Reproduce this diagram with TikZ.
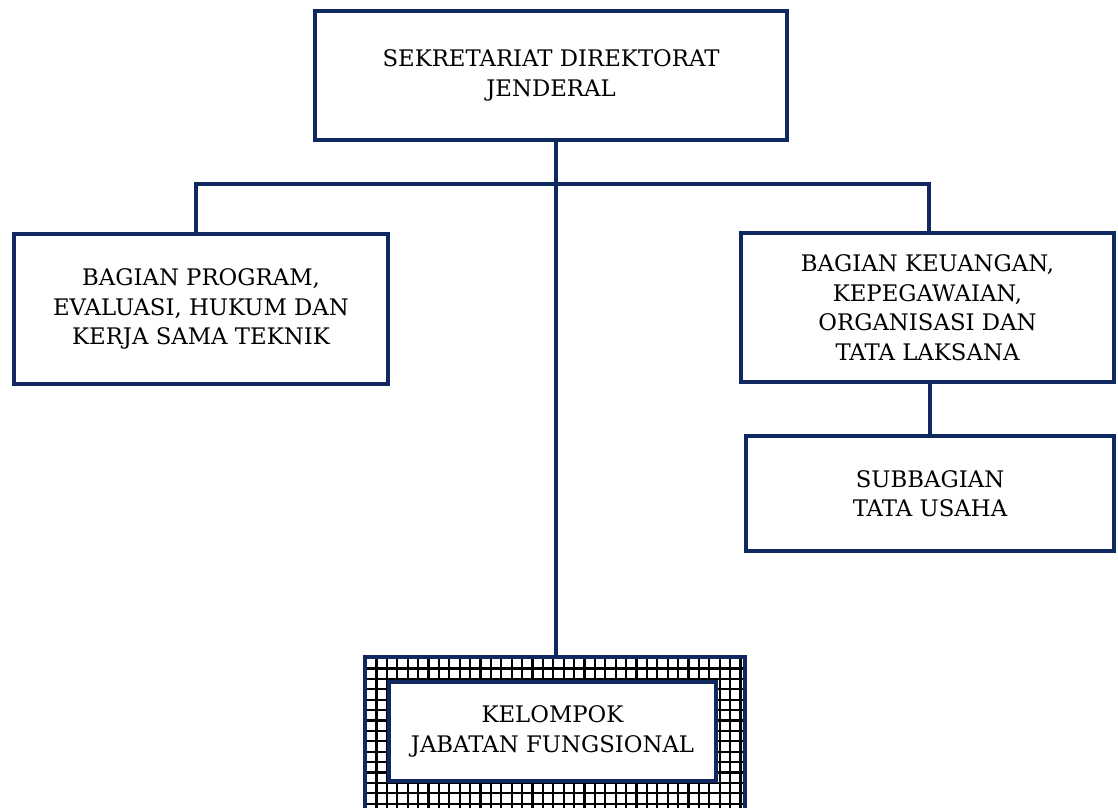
\documentclass[tikz,border=0pt]{standalone}
\usepackage{fontspec}
\setmainfont{DejaVu Serif}
\definecolor{navy}{RGB}{16,40,96}
\begin{document}
\begin{tikzpicture}[x=1pt,y=-1pt,
  box/.style={draw=navy, line width=3.6pt, fill=white, align=center, inner sep=0pt,
    font=\fontsize{22.8}{29.5}\selectfont, text=black},
  conn/.style={draw=navy, line width=3.6pt},
  gridline/.style={draw=black, line width=2.2pt}]
\useasboundingbox (0,0) rectangle (1118,807);
% pattern frame of the functional group
\node[minimum width=380pt, minimum height=154pt, inner sep=0pt] (frame) at (555,734) {};
\begin{scope}
  \clip (frame.north west) rectangle (frame.south east);
  \fill[white] (frame.north west) rectangle (frame.south east);
  \foreach \i in {0,...,37} {\draw[gridline] (366+\i*10.4,650) -- (366+\i*10.4,815);}
  \foreach \j in {0,...,15} {\draw[gridline] (360,658+\j*10.4) -- (750,658+\j*10.4);}
\end{scope}
\draw[conn] (frame.south west) -- (frame.north west) -- (frame.north east) -- (frame.south east);
% nodes
\node[box, minimum width=472pt, minimum height=129pt] (top) at (551,75.5)
  {SEKRETARIAT DIREKTORAT\\JENDERAL};
\node[box, minimum width=374pt, minimum height=150pt] (left) at (201,309)
  {BAGIAN PROGRAM,\\EVALUASI, HUKUM DAN\\KERJA SAMA TEKNIK};
\node[box, minimum width=373pt, minimum height=149pt] (right) at (927.5,307.5)
  {BAGIAN KEUANGAN,\\KEPEGAWAIAN,\\ORGANISASI DAN\\TATA LAKSANA};
\node[box, minimum width=368pt, minimum height=115pt] (sub) at (930,493.5)
  {SUBBAGIAN\\TATA USAHA};
\node[box, line width=3.2pt, minimum width=327pt, minimum height=99pt] (jf) at (552.5,731.5)
  {KELOMPOK\\JABATAN FUNGSIONAL};
% connectors
\coordinate (sp) at (556,184);
\coordinate (bl) at (196,184);
\coordinate (br) at (929,184);
\coordinate (rs) at (930,420);
\draw[conn] (sp |- top.south) -- (sp |- frame.north);
\draw[conn] (bl |- left.north) -- (bl) -- (br) -- (br |- right.north);
\draw[conn] (rs |- right.south) -- (rs |- sub.north);
\end{tikzpicture}
\end{document}
